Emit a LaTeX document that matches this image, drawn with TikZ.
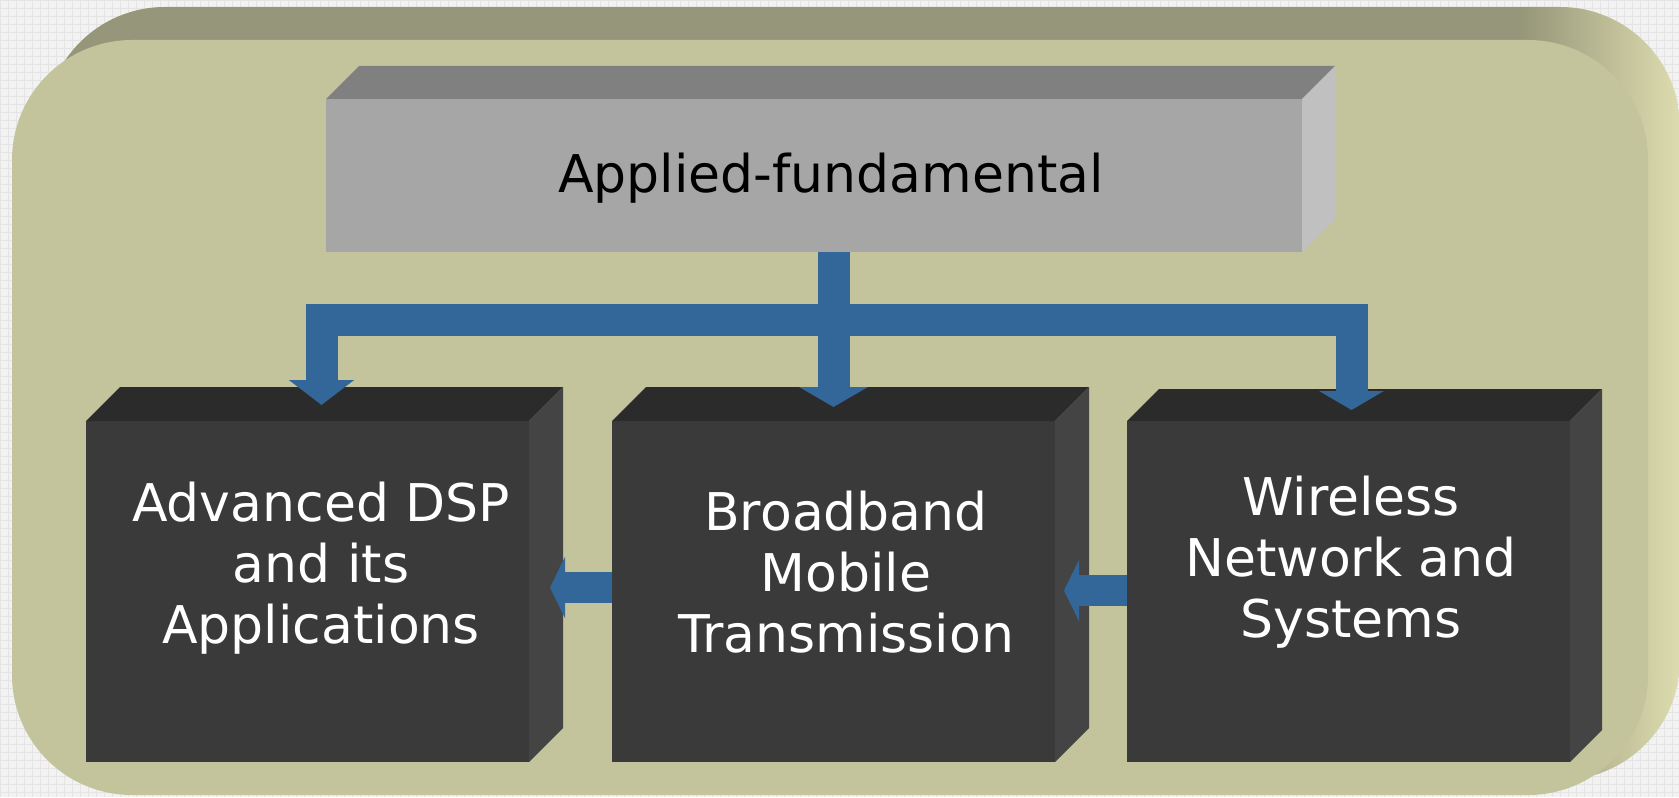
\documentclass[tikz,border=0pt]{standalone}
\usepackage{fontspec}
\setmainfont{DejaVu Sans}
\usetikzlibrary{arrows.meta,calc,fadings}
\definecolor{bgpage}{HTML}{F2F2F2}
\definecolor{bggrid}{HTML}{E4E4E4}
\definecolor{panelfront}{HTML}{C3C49C}
\definecolor{paneltop}{HTML}{96967A}
\definecolor{panelside}{HTML}{DEDDB0}
\definecolor{greyfront}{HTML}{A6A6A6}
\definecolor{greytop}{HTML}{808080}
\definecolor{greyside}{HTML}{C0C0C0}
\definecolor{darkfront}{HTML}{3A3A3A}
\definecolor{darktop}{HTML}{2B2B2B}
\definecolor{darkside}{HTML}{444444}
\definecolor{flowblue}{HTML}{336699}
\tikzset{
         face/.style={inner sep=0pt, outer sep=0pt, anchor=north west},
         darkface/.style={face, fill=darkfront, minimum width=221.5pt, minimum height=170.5pt},
         boxtext/.style={align=center, text=white, font=\fontsize{26}{30.5}\selectfont},
         flow/.style={draw=flowblue, line width=16pt, line join=miter},
         downhead/.style={-{Triangle[width=34pt,length=10pt]}},
         sidehead/.style={line width=15.5pt, -{Triangle[width=30.5pt,length=7.5pt]}}
        }
% top and right faces of a box node
\newcommand{\boxfaces}[4]{%
  \fill[#2] (#1.north west) -- ++(#4,-#4) -- ($(#1.north east)+(#4,-#4)$) -- (#1.north east) -- cycle;
  \fill[#3] (#1.north east) -- ++(#4,-#4) -- ($(#1.south east)+(#4,-#4)$) -- (#1.south east) -- cycle;
}

\begin{document}
\begin{tikzpicture}[x=0.5pt,y=-0.5pt]
\useasboundingbox (0,0) rectangle (1679,797);
\fill[bgpage] (0,0) rectangle (1679,797); %page
\draw[bggrid, line width=0.4pt, step=4pt] (0,0) grid (1679,797);

\begin{scope}
\clip[rounded corners=60pt] (45,7) rectangle (1680,780); %back of panel
\fill[panelside] (45,7) rectangle (1680,780);
\fill[paneltop] (0,0) rectangle (1520,840);
\fill[paneltop, path fading=east] (1520,0) rectangle (1680,840);
\end{scope}
\fill[panelfront, rounded corners=60pt] (12,40) rectangle (1648,795); %panel

\node[face, fill=greyfront, minimum width=488pt, minimum height=76.5pt] (applied) at (326,99) {};
\boxfaces{applied}{greytop}{greyside}{33}
\node[boxtext, text=black] (applied text) at (831,178) {Applied-fundamental};

\node[darkface] (dsp) at (86,421) {};
\boxfaces{dsp}{darktop}{darkside}{34}
\node[darkface] (mobile) at (612,421) {};
\boxfaces{mobile}{darktop}{darkside}{34}
\node[darkface] (wireless) at (1127,421) {};
\boxfaces{wireless}{darktop}{darkside}{32}

\node[boxtext] (dsp text) at (321,568) {Advanced DSP\\and its\\Applications};
\node[boxtext] (mobile text) at (846,572) {Broadband\\Mobile\\Transmission};
\node[boxtext] (wireless text) at (1351,562) {Wireless\\Network and\\Systems};

\coordinate (dsp in) at ($(dsp.north)+(14,-16)$);
\coordinate (mobile in) at ($(mobile.north)+(0,-14)$);
\coordinate (wireless in) at ($(wireless.north)+(3,-11)$);
\coordinate (stem) at (applied.south -| mobile in);
\coordinate (bar) at (833,320);
\draw[flow, {Triangle[width=32pt,length=12.5pt]}-{Triangle[width=32pt,length=9.5pt]}] (dsp in) -- (dsp in |- bar) -- (wireless in |- bar) -- (wireless in); %bar
\draw[flow, downhead] (stem) -- (mobile in); %stem

\coordinate (dsp side) at ($(dsp.east)+(21,-4)$);
\coordinate (mobile side) at ($(mobile.east)+(9,-1)$);
\draw[flow, sidehead] (mobile.west |- dsp side) -- (dsp side);
\draw[flow, sidehead] (wireless.west |- mobile side) -- (mobile side);
\end{tikzpicture}
\end{document}
